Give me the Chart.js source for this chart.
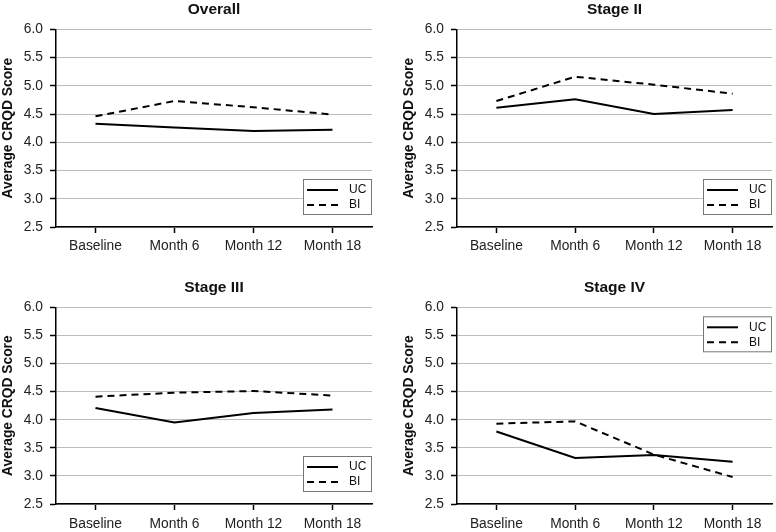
<!DOCTYPE html>
<html>
<head>
<meta charset="utf-8">
<script src="https://cdn.jsdelivr.net/npm/chart.js@4"></script>
<style>
  html, body { margin: 0; padding: 0; background: #fff; }
  #wrap { position: relative; width: 776px; height: 532px; }
  canvas { position: absolute; }
</style>
</head>
<body>
<div id="wrap">
  <canvas id="overall" width="388" height="266" style="left:0;top:0"></canvas>
  <canvas id="stage2" width="388" height="266" style="left:388px;top:0"></canvas>
  <canvas id="stage3" width="388" height="266" style="left:0;top:266px"></canvas>
  <canvas id="stage4" width="388" height="266" style="left:388px;top:266px"></canvas>
</div>
<script>
const timepoints = ["Baseline", "Month 6", "Month 12", "Month 18"];

const overallUC = [4.33, 4.26, 4.20, 4.22];
const overallBI = [4.46, 4.73, 4.62, 4.49];
const stage2UC = [4.61, 4.76, 4.50, 4.57];
const stage2BI = [4.73, 5.16, 5.02, 4.86];
const stage3UC = [4.21, 3.95, 4.12, 4.18];
const stage3BI = [4.41, 4.48, 4.51, 4.43];
const stage4UC = [3.79, 3.32, 3.37, 3.25];
const stage4BI = [3.93, 3.97, 3.38, 2.98];

const FONT = '"Liberation Sans", Arial, Helvetica, sans-serif';

// framed legend drawn inside the plot area
const boxLegend = {
  id: "boxLegend",
  afterDatasetsDraw(chart, args, opts) {
    const { ctx, chartArea } = chart;
    const w = 69, h = 36;
    const x = chartArea.right - w;
    const y = opts.position === "top" ? chartArea.top + 9 : chartArea.bottom - 12 - h;
    ctx.save();
    ctx.fillStyle = "#fff";
    ctx.fillRect(x, y, w, h);
    ctx.strokeStyle = "#777";
    ctx.lineWidth = 1;
    ctx.strokeRect(x + 0.5, y + 0.5, w - 1, h - 1);
    ctx.font = "12px " + FONT;
    ctx.textBaseline = "middle";
    chart.data.datasets.forEach((ds, i) => {
      const ly = y + 11 + i * 15;
      ctx.beginPath();
      ctx.setLineDash(ds.borderDash || []);
      ctx.lineWidth = 2;
      ctx.strokeStyle = ds.borderColor;
      ctx.moveTo(x + 4, ly);
      ctx.lineTo(x + 35, ly);
      ctx.stroke();
      ctx.setLineDash([]);
      ctx.fillStyle = "#111";
      ctx.fillText(ds.label, x + 46, ly);
    });
    ctx.restore();
  }
};

function makePanel(id, title, uc, bi, pad, legendPos, labelPad) {
  return new Chart(document.getElementById(id), {
    type: "line",
    data: {
      labels: timepoints,
      datasets: [
        { label: "UC", data: uc, borderColor: "#000", borderWidth: 2, pointRadius: 0, tension: 0 },
        { label: "BI", data: bi, borderColor: "#000", borderWidth: 2, borderDash: [7, 5], pointRadius: 0, tension: 0 }
      ]
    },
    options: {
      responsive: false,
      animation: false,
      events: [],
      layout: { padding: pad },
      plugins: {
        legend: { display: false },
        tooltip: { enabled: false },
        title: {
          display: true,
          text: title,
          fullSize: false,
          color: "#111",
          font: { family: FONT, size: 15.5, weight: "bold" },
          padding: { top: 0, bottom: 10.7 }
        },
        boxLegend: { position: legendPos }
      },
      scales: {
        x: {
          offset: true,
          grid: { display: true, drawOnChartArea: false, drawTicks: true, tickLength: 6, tickColor: "#000", tickWidth: 1.5 },
          border: { display: true, color: "#000", width: 1.5 },
          ticks: { color: "#222", font: { family: FONT, size: 13.8 }, padding: labelPad, maxRotation: 0, autoSkip: false },
          afterFit: (s) => { s.height = 28; }
        },
        y: {
          min: 2.5,
          max: 6,
          ticks: { stepSize: 0.5, callback: (v) => v.toFixed(1), padding: 7, color: "#222", font: { family: FONT, size: 13.8 } },
          grid: { color: "#bdbdbd", lineWidth: 1, tickColor: "#000", tickLength: 6, tickWidth: 1.5 },
          border: { display: true, color: "#000", width: 1.5 },
          title: {
            display: true,
            text: "Average CRQD Score",
            color: "#111",
            font: { family: FONT, size: 13.8, weight: "bold" },
            padding: { top: 0, bottom: 0 }
          },
          afterFit: (s) => { s.width = 56; }
        }
      }
    },
    plugins: [boxLegend]
  });
}

makePanel("overall", "Overall", overallUC, overallBI, { left: 0, right: 16, top: 0, bottom: 11 }, "bottom", 4.5);
makePanel("stage2", "Stage II", stage2UC, stage2BI, { left: 13, right: 4, top: 0, bottom: 11 }, "bottom", 4.5);
makePanel("stage3", "Stage III", stage3UC, stage3BI, { left: 0, right: 16, top: 12, bottom: 0 }, "bottom", 6);
makePanel("stage4", "Stage IV", stage4UC, stage4BI, { left: 13, right: 4, top: 12, bottom: 0 }, "top", 6);
</script>
</body>
</html>
